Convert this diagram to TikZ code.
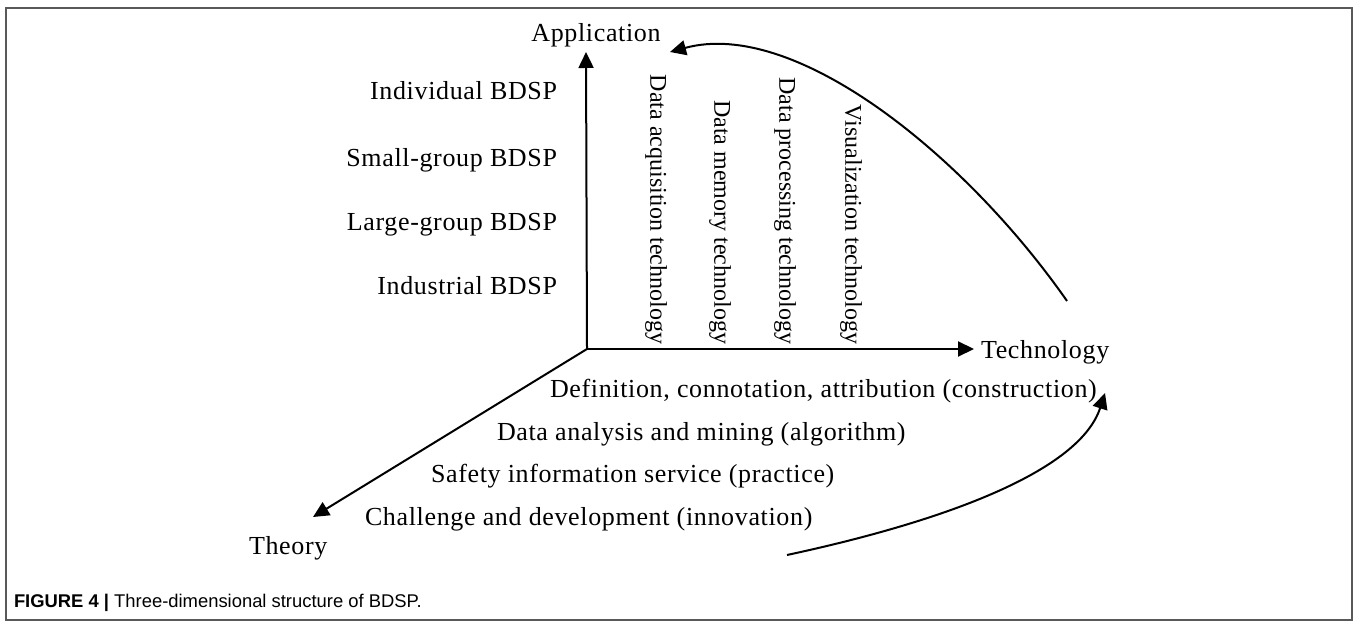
\documentclass[tikz,border=0pt]{standalone}
\usepackage{fontspec}
\setmainfont{Liberation Serif}[LetterSpace=2.5]
\newfontfamily\vertfont{Liberation Serif}
\newfontfamily\capfont{Liberation Sans}
\usetikzlibrary{arrows.meta}

\begin{document}
\begin{tikzpicture}[x=0.5pt, y=-0.5pt, line width=1pt,
	txt/.style={inner sep=0pt, anchor=base west, font=\fontsize{13}{15}\selectfont},
	rtxt/.style={txt, anchor=base east},
	vtxt/.style={inner sep=0pt, rotate=-90, anchor=east, font=\vertfont\fontsize{12}{14}\selectfont},
	axis/.style={-{Triangle[length=8pt,width=7.5pt]}}]
	\useasboundingbox (0,0) rectangle (1358,625);
	\draw[color=black!65, line width=.8pt] (6,8) rectangle (1352,620);
	\coordinate (O) at (587,349);
	\coordinate (appTip) at (586,52);
	\coordinate (techTip) at (974,349);
	\coordinate (theoTip) at (313,517);
	\draw[axis] (O) -- (appTip);
	\draw[axis] (O) -- (techTip);
	\draw[axis] (O) -- (theoTip);
	\node[txt, anchor=base] (app) at (596,42) {Application};
	\node[txt] (tech) at (980,358) {Technology};
	\node[txt] (theory) at (248,554) {Theory};
	\node[rtxt] (ind) at (558,100) {Individual BDSP};
	\node[rtxt] (small) at (558,167) {Small-group BDSP};
	\node[rtxt] (large) at (558,231) {Large-group BDSP};
	\node[rtxt] (indus) at (558,295) {Industrial BDSP};
	\node[vtxt] (acq) at (656,345) {Data acquisition technology};
	\node[vtxt] (mem) at (720,345) {Data memory technology};
	\node[vtxt] (proc) at (785,345) {Data processing technology};
	\node[vtxt] (vis) at (851,345) {Visualization technology};
	\node[txt] (def) at (549,397) {Definition, connotation, attribution (construction)};
	\node[txt] (ana) at (496,440) {Data analysis and mining (algorithm)};
	\node[txt] (safe) at (430,482) {Safety information service (practice)};
	\node[txt] (chal) at (364,525) {Challenge and development (innovation)};
	\coordinate (upStart) at (1067,301);
	\coordinate (upTip) at (670,52);
	\coordinate (lowStart) at (787,555);
	\coordinate (lowTip) at (1105,393);
	\draw[axis] (upStart) .. controls (965,155) and (795,18) .. (upTip);
	\draw[axis] (lowStart) .. controls (950,520) and (1080,470) .. (lowTip);
	\node[inner sep=0pt, anchor=base west, font=\capfont\fontsize{9.2}{11}\selectfont] (cap) at (13,607) {\textbf{FIGURE 4 |} Three-dimensional structure of BDSP.};
\end{tikzpicture}
\end{document}
